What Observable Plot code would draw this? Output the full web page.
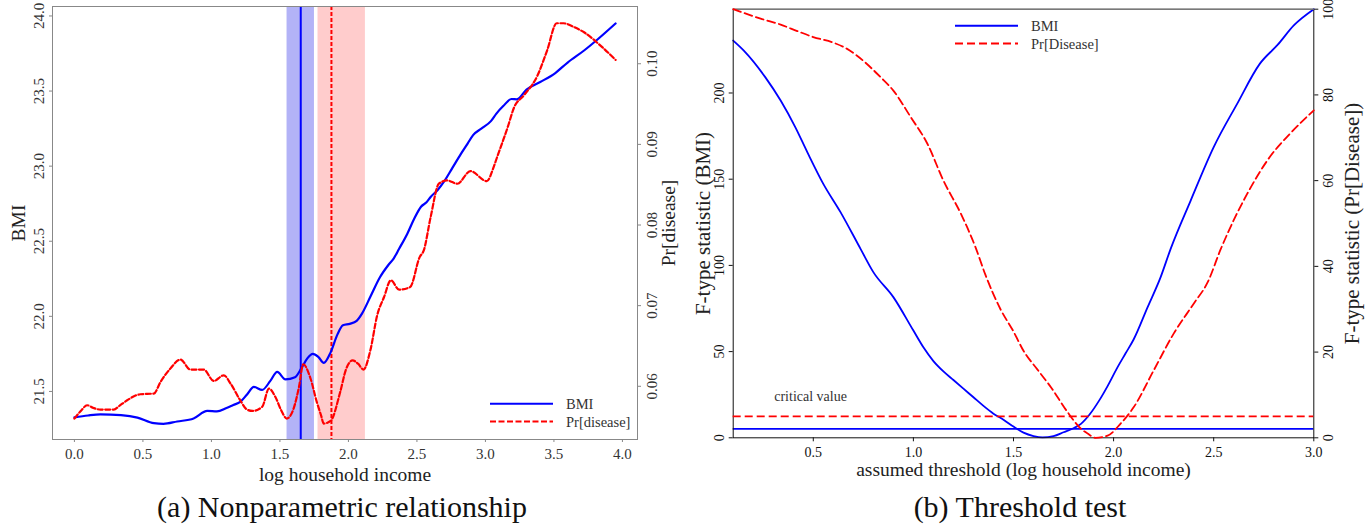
<!DOCTYPE html>
<html><head><meta charset="utf-8">
<script src="https://cdn.jsdelivr.net/npm/d3@7"></script>
<script src="https://cdn.jsdelivr.net/npm/@observablehq/plot@0.6"></script>
<style>
body{margin:0;background:#fff;}
#root{position:relative;width:1369px;height:529px;font-family:"Liberation Serif",serif;color:#222;overflow:hidden;}
.layer{position:absolute;top:0;}
.cap{position:absolute;font-size:30px;white-space:nowrap;transform:translate(-50%,-50%);color:#111;}
.leg{position:absolute;font-size:14.5px;color:#333;white-space:nowrap;line-height:1;}
</style></head><body><div id="root"></div>
<script>
// ---------- Panel (a): nonparametric relationship ----------
const incomeBMI = [0.00,0.10,0.19,0.34,0.46,0.58,0.65,0.75,0.87,0.97,1.04,1.11,1.16,1.21,1.26,1.31,1.37,1.43,1.48,1.54,1.61,1.66,1.70,1.74,1.78,1.82,1.87,1.92,1.96,2.01,2.06,2.10,2.16,2.23,2.29,2.33,2.37,2.43,2.48,2.53,2.57,2.60,2.65,2.70,2.76,2.82,2.87,2.91,2.97,3.04,3.08,3.13,3.19,3.23,3.30,3.40,3.51,3.60,3.72,3.82,3.95];
const bmiValues = [21.327,21.34,21.347,21.342,21.326,21.289,21.284,21.30,21.32,21.37,21.367,21.39,21.41,21.43,21.48,21.53,21.51,21.57,21.63,21.58,21.595,21.66,21.72,21.75,21.73,21.69,21.76,21.88,21.94,21.95,21.97,22.02,22.13,22.26,22.34,22.385,22.45,22.55,22.65,22.73,22.76,22.795,22.84,22.90,22.99,23.08,23.15,23.207,23.25,23.30,23.35,23.40,23.447,23.445,23.51,23.56,23.62,23.69,23.77,23.845,23.95];

const incomePr = [0.00,0.05,0.092,0.14,0.19,0.287,0.33,0.385,0.48,0.58,0.628,0.70,0.774,0.847,0.944,1.017,1.09,1.14,1.21,1.26,1.30,1.37,1.42,1.467,1.51,1.55,1.60,1.64,1.67,1.72,1.77,1.80,1.82,1.87,1.94,1.98,2.01,2.03,2.07,2.11,2.16,2.21,2.26,2.31,2.37,2.45,2.52,2.55,2.60,2.66,2.72,2.795,2.89,3.01,3.06,3.085,3.12,3.16,3.21,3.28,3.38,3.45,3.52,3.57,3.64,3.72,3.84,3.95];
const prValues = [0.0560,0.0570,0.05765,0.0573,0.05711,0.05711,0.0576,0.05827,0.05901,0.0591,0.06053,0.06219,0.06331,0.06207,0.06207,0.06066,0.06136,0.06033,0.05827,0.05711,0.05694,0.05744,0.05971,0.05867,0.0570,0.0560,0.05724,0.0600,0.06273,0.06115,0.0580,0.05641,0.05538,0.0557,0.05929,0.06198,0.06301,0.06322,0.0628,0.06207,0.06446,0.0688,0.07107,0.07314,0.07198,0.0723,0.07602,0.07685,0.08098,0.08512,0.08553,0.08512,0.08668,0.08544,0.08718,0.08841,0.09007,0.0920,0.09461,0.09606,0.09854,0.10164,0.10502,0.10502,0.1046,0.1039,0.10225,0.10048];

const bmiThreshold = 1.652, bmiBand = [1.552, 1.752];
const prThreshold = 1.876, prBand = [1.778, 2.124];
const xTicksA = [0,0.5,1,1.5,2,2.5,3,3.5,4];
const bmiTicks = [21.5,22,22.5,23,23.5,24];
const prTicks = [0.06,0.07,0.08,0.09,0.10];

// ---------- Panel (b): threshold test ----------
const gridBMI = [0.10,0.153,0.26,0.337,0.41,0.47,0.55,0.636,0.736,0.80,0.90,1.00,1.05,1.10,1.15,1.20,1.25,1.30,1.35,1.40,1.45,1.50,1.55,1.60,1.645,1.70,1.75,1.80,1.837,1.88,1.93,1.97,2.02,2.06,2.10,2.17,2.235,2.285,2.385,2.50,2.617,2.73,2.82,2.90,3.00];
const fBMI = [230.4,224.6,209.2,195.6,180.2,165.7,147.3,130.9,109.6,96.1,81.6,62.2,52.5,44.5,38.5,33.5,28.5,23.5,18.5,14,10.5,6.5,3,1,0.2,1,3.2,5.5,8.1,13.5,22,30,41,49,57,75.8,93.2,109.6,137.6,168.6,193.7,216.9,228,239.2,248.6];
const gridPr = [0.10,0.237,0.337,0.42,0.50,0.60,0.667,0.717,0.837,0.90,0.987,1.07,1.15,1.237,1.31,1.36,1.435,1.50,1.55,1.62,1.687,1.77,1.837,1.87,1.91,1.97,2.035,2.10,2.20,2.30,2.40,2.47,2.535,2.667,2.78,2.88,3.00];
const fPr = [100,97.8,96.4,94.9,93.5,92.2,90.8,89.2,84.1,81.0,74.8,68.6,60.0,52.3,44.5,38,30,24.8,20.3,15.9,11.8,6.0,2.1,1.0,0,0.5,3.3,7.1,15.7,24.3,31.3,36.3,44.0,56.9,65.5,70.9,76.4];
const critBMI = 5.2, critPr = 5.0;
const xTicksB = [0.5,1,1.5,2,2.5,3];
const fBMITicks = [0,50,100,150,200];
const fPrTicks = [0,20,40,60,80,100];

const BLUE = "#0000ff", RED = "#ff0000";
const FONT = '"Liberation Serif", serif';
const zip = (xs, ys) => xs.map((x, i) => ({x, y: ys[i]}));
const f1 = d3.format(".1f"), f2 = d3.format(".2f");
const root = document.getElementById("root");
function place(el, left) { el.classList.add("layer"); el.style.left = left + "px"; root.appendChild(el); }

// Panel (a)
const A = {width: 680, height: 490, marginLeft: 52, marginRight: 43, marginTop: 6, marginBottom: 51};
const xDomA = [-0.16, 4.11];
const baseA = Plot.plot({
  ...A,
  style: {fontFamily: FONT, fontSize: "15px", background: "transparent", color: "#333"},
  x: {domain: xDomA},
  y: {domain: [21.18, 24.063]},
  marks: [
    Plot.rect([bmiBand], {x1: d => d[0], x2: d => d[1], fill: "#b3b3f7"}),
    Plot.rect([prBand], {x1: d => d[0], x2: d => d[1], fill: "#ffcccc"}),
    Plot.ruleX([bmiThreshold], {stroke: BLUE, strokeWidth: 2}),
    Plot.ruleX([prThreshold], {stroke: RED, strokeWidth: 2, strokeDasharray: "4,2"}),
    Plot.line(zip(incomeBMI, bmiValues), {x: "x", y: "y", stroke: BLUE, strokeWidth: 2.2, curve: "monotone-x"}),
    Plot.frame({stroke: "#888"}),
    Plot.axisX({ticks: xTicksA, tickFormat: f1, tickSize: 3, stroke: "#888", label: null}),
    Plot.axisY({ticks: bmiTicks, tickFormat: f1, tickSize: 3, stroke: "#888", tickRotate: -90, textAnchor: "middle", lineAnchor: "bottom", label: null}),
    Plot.text(["log household income"], {frameAnchor: "bottom", dy: 35, lineAnchor: "middle", fontSize: 19.5, fill: "#222"}),
    Plot.text(["BMI"], {frameAnchor: "left", dx: -34, rotate: -90, textAnchor: "middle", lineAnchor: "middle", fontSize: 19.5, fill: "#222"})
  ]
});
place(baseA, 0);

const overA = Plot.plot({
  ...A,
  style: {fontFamily: FONT, fontSize: "15px", background: "transparent", color: "#333"},
  x: {domain: xDomA, axis: null},
  y: {domain: [0.0534, 0.1071]},
  marks: [
    Plot.line(zip(incomePr, prValues), {x: "x", y: "y", stroke: RED, strokeWidth: 2.2, strokeDasharray: "5,2.5", curve: "monotone-x"}),
    Plot.axisY({anchor: "right", ticks: prTicks, tickFormat: f2, tickSize: 3, stroke: "#888", tickRotate: -90, textAnchor: "middle", lineAnchor: "top", label: null}),
    Plot.text(["Pr[disease]"], {frameAnchor: "right", dx: 31, rotate: -90, textAnchor: "middle", lineAnchor: "middle", fontSize: 19.5, fill: "#222"})
  ]
});
place(overA, 0);

// Panel (b)
const B = {width: 689, height: 490, marginLeft: 52.7, marginRight: 55.7, marginTop: 8.7, marginBottom: 52.7};
const xDomB = [0.1, 3.0];
const baseB = Plot.plot({
  ...B,
  style: {fontFamily: FONT, fontSize: "14px", background: "transparent", color: "#111"},
  x: {domain: xDomB},
  y: {domain: [0, 248.6]},
  marks: [
    Plot.ruleY([critBMI], {stroke: BLUE, strokeWidth: 1.8}),
    Plot.line(zip(gridBMI, fBMI), {x: "x", y: "y", stroke: BLUE, strokeWidth: 1.8, curve: "monotone-x"}),
    Plot.frame({stroke: "#111"}),
    Plot.frame({anchor: "top", stroke: "#888"}),
    Plot.axisX({ticks: xTicksB, tickFormat: f1, tickSize: 4, label: null}),
    Plot.axisY({ticks: fBMITicks, tickSize: 4, tickRotate: -90, textAnchor: "middle", lineAnchor: "bottom", label: null}),
    Plot.text(["critical value"], {x: 0.305, y: 24.1, textAnchor: "start", fontSize: 14, fill: "#333"}),
    Plot.text(["assumed threshold (log household income)"], {frameAnchor: "bottom", dy: 32, lineAnchor: "middle", fontSize: 19.5, fill: "#222"}),
    Plot.text(["F-type statistic (BMI)"], {frameAnchor: "left", dx: -30, rotate: -90, textAnchor: "middle", lineAnchor: "middle", fontSize: 21, fill: "#222"})
  ]
});
place(baseB, 680);

const overB = Plot.plot({
  ...B,
  style: {fontFamily: FONT, fontSize: "14px", background: "transparent", color: "#111"},
  x: {domain: xDomB, axis: null},
  y: {domain: [0, 100]},
  marks: [
    Plot.ruleY([critPr], {stroke: RED, strokeWidth: 1.8, strokeDasharray: "8,4"}),
    Plot.line(zip(gridPr, fPr), {x: "x", y: "y", stroke: RED, strokeWidth: 1.8, strokeDasharray: "8,4", curve: "monotone-x"}),
    Plot.axisY({anchor: "right", ticks: fPrTicks, tickSize: 4, tickRotate: -90, textAnchor: "middle", lineAnchor: "top", label: null}),
    Plot.text(["F-type statistic (Pr[Disease])"], {frameAnchor: "right", dx: 38, rotate: -90, textAnchor: "middle", lineAnchor: "middle", fontSize: 21, fill: "#222"})
  ]
});
place(overB, 680);

// Legends and captions
function legend(left, top, gap, w, items) {
  const div = document.createElement("div");
  div.style.position = "absolute"; div.style.left = left + "px"; div.style.top = top + "px";
  let html = `<svg width="${w}" height="${gap * items.length}" style="position:absolute;left:0;top:0;overflow:visible">`;
  items.forEach((it, i) => {
    const y = i * gap + gap / 2;
    html += `<line x1="0" x2="${w}" y1="${y}" y2="${y}" stroke="${it.color}" stroke-width="2" ${it.dash ? `stroke-dasharray="${it.dash}"` : ""}/>`;
  });
  html += "</svg>";
  items.forEach((it, i) => {
    html += `<div class="leg" style="left:${w + 13}px;top:${i * gap + gap / 2 - 7}px">${it.label}</div>`;
  });
  div.innerHTML = html;
  root.appendChild(div);
}
legend(490, 395, 17.7, 63, [{label: "BMI", color: BLUE}, {label: "Pr[disease]", color: RED, dash: "6,2.5"}]);
legend(955, 17, 17.7, 63, [{label: "BMI", color: BLUE}, {label: "Pr[Disease]", color: RED, dash: "8,4"}]);

function caption(text, x, y) {
  const d = document.createElement("div");
  d.className = "cap"; d.textContent = text;
  d.style.left = x + "px"; d.style.top = y + "px";
  root.appendChild(d);
}
caption("(a) Nonparametric relationship", 342, 507);
caption("(b) Threshold test", 1020, 507);
</script></body></html>
